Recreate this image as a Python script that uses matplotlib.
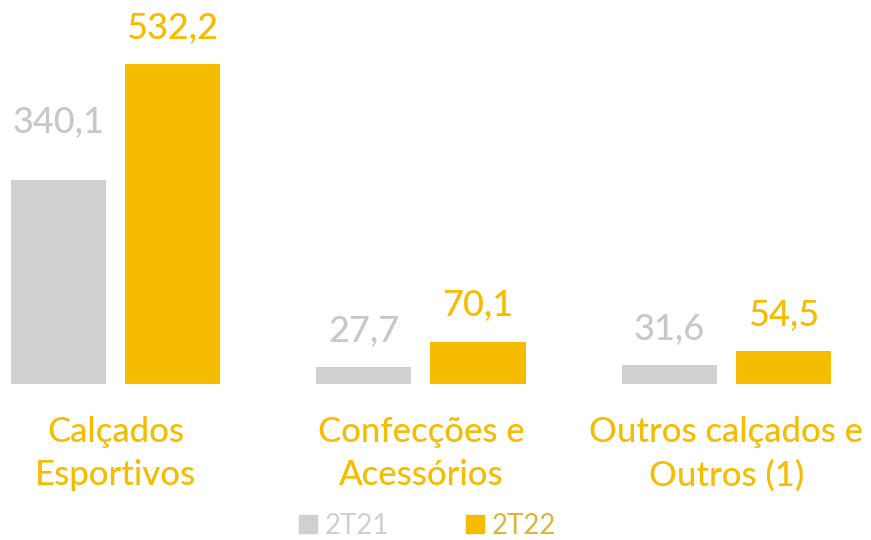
import matplotlib
matplotlib.use("Agg")
import matplotlib.pyplot as plt
from matplotlib.lines import Line2D
import numpy as np

categories = ["Calçados\nEsportivos", "Confecções e\nAcessórios", "Outros calçados e\nOutros (1)"]
series_names = ["2T21", "2T22"]
values_2t21 = [340.1, 27.7, 31.6]
values_2t22 = [532.2, 70.1, 54.5]

GRAY = "#D0D0D0"
GOLD = "#F5BC00"
GRAY_TXT = "#C8C8C8"
GOLD_LEG = "#DDB53A"

plt.rcParams['font.family'] = ['Lato', 'DejaVu Sans']

fig = plt.figure(figsize=(8.71, 5.40), dpi=100)
ax = fig.add_axes([0, 0, 1, 1])

x = np.arange(len(categories))
width = 0.311
off = 0.1866

b1 = ax.bar(x - off, values_2t21, width, color=GRAY)
b2 = ax.bar(x + off, values_2t22, width, color=GOLD)

fmt = lambda v: f"{v:.1f}".replace(".", ",")
# the first grey label sits higher than the others in the original
pads_2t21 = [29, 14, 14]
for xi, v, p in zip(x - off, values_2t21, pads_2t21):
    ax.annotate(fmt(v), (xi, v), xytext=(0, p), textcoords='offset points',
                ha='center', va='bottom', fontsize=26, color=GRAY_TXT, fontweight='medium')
for xi, v in zip(x + off, values_2t22):
    ax.annotate(fmt(v), (xi, v), xytext=(0, 14), textcoords='offset points',
                ha='center', va='bottom', fontsize=26, color=GOLD, fontweight='medium')

ax.set_xlim(-0.378, 2.473)
ax.set_ylim(-259.6, 639.0)
ax.axis('off')

for xi, lab in zip(x, categories):
    ax.annotate(lab, (xi, 0), xytext=(0, -23), textcoords='offset points',
                ha='center', va='top', fontsize=25, color=GOLD, linespacing=1.42,
                fontweight='medium')

handles = [Line2D([], [], marker='s', linestyle='', markersize=13, color=GRAY),
           Line2D([], [], marker='s', linestyle='', markersize=13, color=GOLD)]
leg = fig.legend(handles, series_names, loc='center', bbox_to_anchor=(425 / 871, 14 / 540),
                 ncol=2, frameon=False, fontsize=20, handletextpad=0.1,
                 columnspacing=2.6, handlelength=1.0, borderpad=0.1)
for t, c in zip(leg.get_texts(), [GRAY, GOLD_LEG]):
    t.set_color(c)

fig.savefig("out.png", dpi=100)
